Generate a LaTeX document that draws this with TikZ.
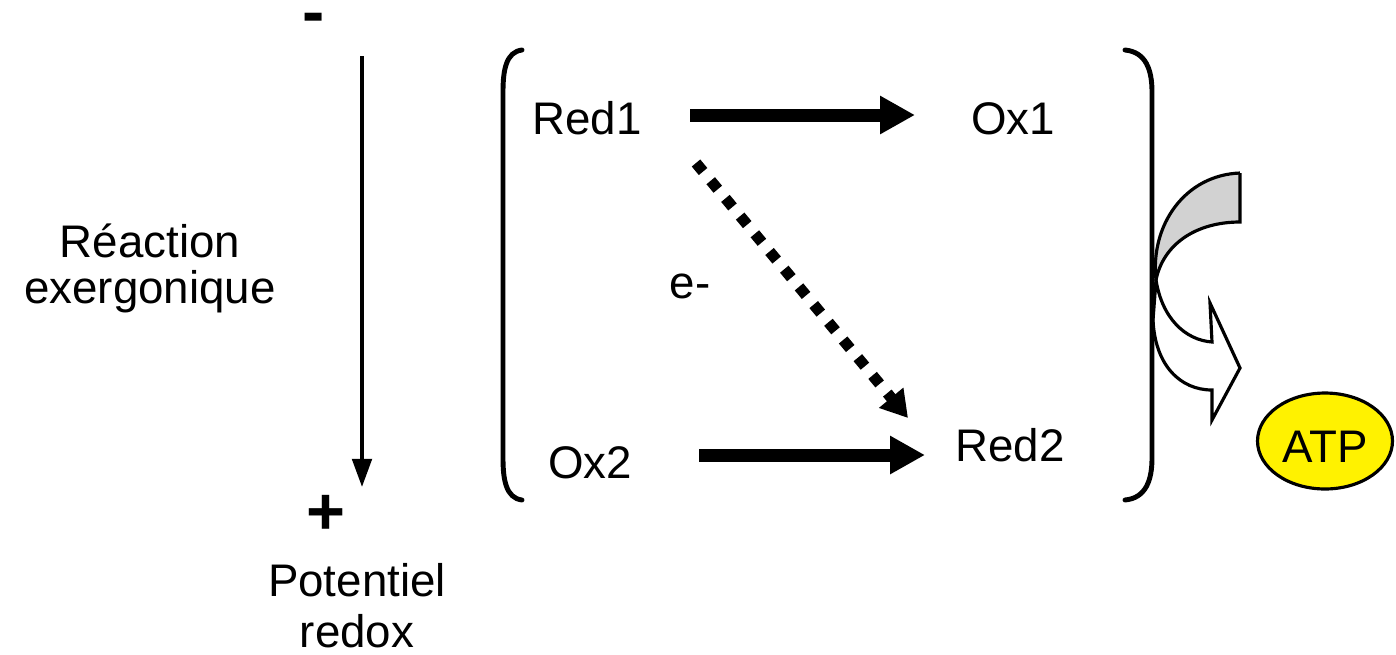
\documentclass[tikz,border=0pt]{standalone}
\usepackage{fontspec}
\setmainfont{Liberation Sans}
\usetikzlibrary{arrows.meta}
\usetikzlibrary{positioning}
\usetikzlibrary{shapes.geometric}

\tikzset{
    lbl/.style={font=\fontsize{26}{31}\selectfont, anchor=base, inner sep=0pt},
    sign/.style={font=\fontsize{38}{42}\selectfont\bfseries, anchor=base, inner sep=0pt,
        text height=16pt},
    fat/.style={line width=7.4pt, -{Triangle[length=19.8pt,width=20.4pt]}},
    dotarrow/.style={line width=6.3pt, dash pattern=on 6.3pt off 6.8pt,
        -{Triangle[length=15pt,width=17pt]}},
    bracket/.style={line width=2.8pt, line cap=round},
    curvearrow/.style={line width=1.8pt, line join=miter},
}

\begin{document}
\begin{tikzpicture}[x=0.02cm, y=-0.02cm]
        \useasboundingbox (0,0) rectangle (1396,654);
        % potential scale
        \node[sign] (minus) at (314,34) {-};
        \node[sign] (plus) at (326,534) {+};
        \coordinate (top) at (362,56);
        \coordinate (bot) at (362,487);
        \draw[line width=2.3pt, -{Triangle[length=16pt,width=11pt]}] (top) -- (bot);
        \node[lbl] (pot) at (357,596) {Potentiel};
        \node[lbl] (redox) at (357,647) {redox};
        \node[lbl] (rea) at (150,257) {Réaction};
        \node[lbl] (exer) at (150,303) {exergonique};
        % brackets
        \draw[bracket] (522,50) .. controls (506,52) and (503,70) .. (503,92)
            -- (503,458) .. controls (503,480) and (506,498) .. (522,500);
        % couple arrow
        \filldraw[curvearrow, fill=gray!35] (1240,173) -- (1240,222)
            .. controls (1195,222) and (1163,245) .. (1156,280)
            .. controls (1150,225) and (1185,175) .. (1240,173);
        \filldraw[curvearrow, fill=white] (1156,280) .. controls (1162,318) and (1185,340) .. (1212,342)
            -- (1210,303) -- (1240,368) -- (1212,420) -- (1212,390)
            .. controls (1180,390) and (1155,365) .. (1153,320) -- cycle;
        \draw[bracket] (1125,50) .. controls (1146,52) and (1152,70) .. (1152,92)
            -- (1152,458) .. controls (1152,480) and (1146,498) .. (1125,500);
        % couples
        \node[lbl] (red1) at (587,134) {Red1};
        \node[lbl] (ox1) at (1013,134) {Ox1};
        \node[lbl] (ox2) at (590,478) {Ox2};
        \node[lbl] (red2) at (1010,461) {Red2};
        \node[lbl] (e) at (690,298) {e-};
        \coordinate (r1e) at (690,115);
        \coordinate (o1w) at (915,115);
        \coordinate (o2e) at (699,455);
        \coordinate (r2w) at (925,455);
        \coordinate (r1s) at (696,163);
        \coordinate (r2n) at (908,418);
        \draw[fat] (r1e) -- (o1w);
        \draw[fat] (o2e) -- (r2w);
        \draw[dotarrow] (r1s) -- (r2n);
        % ATP
        \node[ellipse, draw, line width=1.8pt, fill=yellow,
            minimum width=2.7cm, minimum height=1.92cm, inner sep=0pt] (atp) at (1325,441) {};
        \node[lbl] (atptxt) at (1325,462) {ATP};
    \end{tikzpicture}
\end{document}
